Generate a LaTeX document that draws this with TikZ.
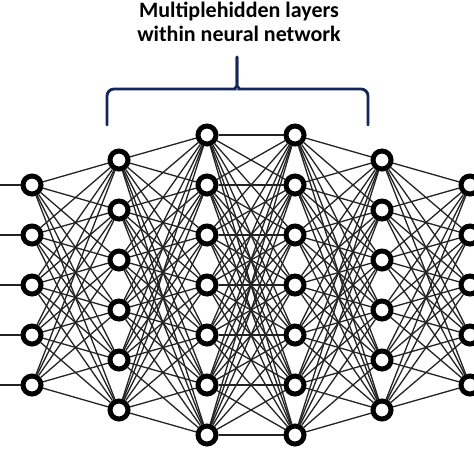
\documentclass[tikz,border=0pt]{standalone}
\usepackage{fontspec}
\setmainfont{Carlito}
\definecolor{bracecol}{RGB}{18,38,92}
\definecolor{edgecol}{RGB}{35,35,35}
\tikzset{
  neuron/.style={circle, draw=black, fill=white, line width=5pt, minimum size=18pt, inner sep=0pt},
  link/.style={draw=edgecol, line width=1.3pt},
  bracestyle/.style={draw=bracecol, line width=2.8pt, line cap=round},
  title/.style={anchor=base, font=\bfseries\fontsize{22}{26}\selectfont, inner sep=0pt}
}
\begin{document}
\begin{tikzpicture}[x=1pt,y=-1pt]
\useasboundingbox (0,0) rectangle (474,474);
\fill[white] (0,0) rectangle (474,474);
% nodes
\foreach \i in {1,...,5} \node[neuron] (a\i) at (32,{135+50*\i}) {};
\foreach \i in {1,...,6} \node[neuron] (b\i) at (119,{110+50*\i}) {};
\foreach \i in {1,...,7} \node[neuron] (c\i) at (207,{85+50*\i}) {};
\foreach \i in {1,...,7} \node[neuron] (d\i) at (295,{85+50*\i}) {};
\foreach \i in {1,...,6} \node[neuron] (e\i) at (382,{110+50*\i}) {};
\foreach \i in {1,...,5} \node[neuron] (f\i) at (470,{135+50*\i}) {};
\foreach \i in {1,...,5} \coordinate (s\i) at (0,{135+50*\i});
% edges
\foreach \i in {1,...,5} \draw[link] (s\i) -- (a\i);
\foreach \i in {1,...,5} \foreach \j in {1,...,6} \draw[link] (a\i) -- (b\j);
\foreach \i in {1,...,6} \foreach \j in {1,...,7} \draw[link] (b\i) -- (c\j);
\foreach \i in {1,...,7} \foreach \j in {1,...,7} \draw[link] (c\i) -- (d\j);
\foreach \i in {1,...,7} \foreach \j in {1,...,6} \draw[link] (d\i) -- (e\j);
\foreach \i in {1,...,6} \foreach \j in {1,...,5} \draw[link] (e\i) -- (f\j);
% brace
\coordinate (bl) at (107,125);
\coordinate (br) at (368,125);
\coordinate (bt) at (237,57);
\draw[bracestyle, rounded corners=7pt] (bl) -- (107,89) -- (228,89) .. controls (234,89) and (237,86) .. (237,79) -- (bt);
\draw[bracestyle, rounded corners=7pt] (br) -- (368,89) -- (246,89) .. controls (240,89) and (237,86) .. (237,79) -- (bt);
% title
\node[title] (t1) at (239,17) {Multiplehidden layers};
\node[title] (t2) at (239,41) {within neural network};
\end{tikzpicture}
\end{document}
